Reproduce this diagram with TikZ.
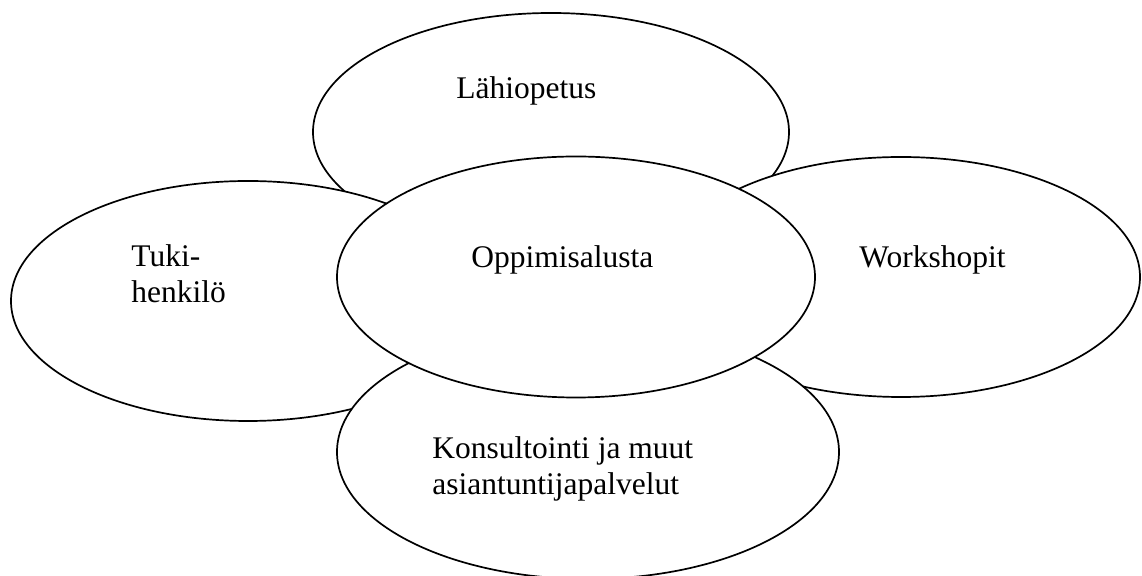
\documentclass[tikz,border=0pt]{standalone}
\usepackage{fontspec}
\setmainfont{Liberation Serif}
\usetikzlibrary{shapes.geometric}
\begin{document}
\begin{tikzpicture}[x=0.5pt,y=-0.5pt,
  bubble/.style={ellipse,draw=black,fill=white,line width=0.85pt,inner sep=0pt},
  label/.style={anchor=base west,inner sep=0pt,font=\fontsize{15.75pt}{18.4pt}\selectfont,align=left}]
\useasboundingbox[fill=white] (0,0) rectangle (1142,576);
% outer bubbles, back to front (sizes: 1px = 0.5pt)
\node[bubble,minimum width=238pt,minimum height=119pt] (lahi) at (551,132) {};
\node[bubble,minimum width=237pt,minimum height=120pt] (tuki) at (248,301) {};
\node[bubble,minimum width=239pt,minimum height=120pt] (work) at (901,277) {};
\node[bubble,minimum width=251pt,minimum height=127pt] (kons) at (588,452) {};
% central bubble on top
\node[bubble,minimum width=239pt,minimum height=120.5pt] (oppi) at (576,277) {};
% labels (multi-line labels are anchored on their last baseline)
\node[label] (tlahi) at (456,99) {Lähiopetus};
\node[label] (toppi) at (471,268) {Oppimisalusta};
\node[label] (twork) at (859,268) {Workshopit};
\node[label] (ttuki) at (131,303) {Tuki-\\henkilö};
\node[label] (tkons) at (432,495) {Konsultointi ja muut\\asiantuntijapalvelut};
\end{tikzpicture}
\end{document}
